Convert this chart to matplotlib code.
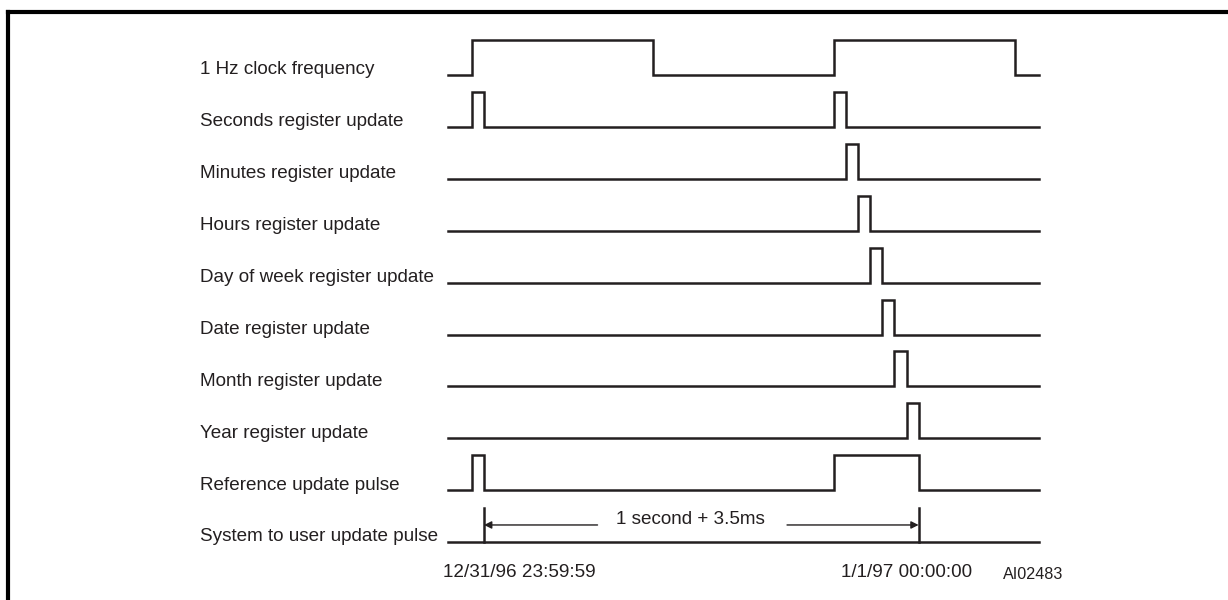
import matplotlib
matplotlib.use("Agg")
import matplotlib.pyplot as plt
from matplotlib.lines import Line2D

# signal names, top to bottom
labels = ["1 Hz clock frequency", "Seconds register update", "Minutes register update",
          "Hours register update", "Day of week register update", "Date register update",
          "Month register update", "Year register update", "Reference update pulse",
          "System to user update pulse"]

# time in ticks (one tick = width of a register update pulse, 30 ticks per clock period)
t_start = -2
t_end = 47
# (rise, fall) pairs for every signal
clock_hi = [(0, 15), (30, 45)]
seconds_hi = [(0, 1), (30, 31)]
minutes_hi = [(31, 32)]
hours_hi = [(32, 33)]
dow_hi = [(33, 34)]
date_hi = [(34, 35)]
month_hi = [(35, 36)]
year_hi = [(36, 37)]
reference_hi = [(0, 1), (30, 37)]
system_hi = []
pulses = [clock_hi, seconds_hi, minutes_hi, hours_hi, dow_hi, date_hi,
          month_hi, year_hi, reference_hi, system_hi]

# measurement between the two update instants
span_from = 1
span_to = 37
span_text = "1 second + 3.5ms"
date_labels = ["12/31/96 23:59:59", "1/1/97 00:00:00"]
date_pos = [-2.4, 30.6]
fig_id = "AI02483"

def waveform(highs):
    xs = [t_start]
    ys = [0]
    for r, f in highs:
        xs += [r, r, f, f]
        ys += [0, 1, 1, 0]
    xs.append(t_end)
    ys.append(0)
    return xs, ys

def main():
    ink = '#231f20'
    plt.rcParams['font.family'] = ['Liberation Sans', 'DejaVu Sans']
    fig = plt.figure(figsize=(12.28, 6), dpi=100)
    ax = fig.add_axes([0, 0, 1, 1])
    ax.set_axis_off()
    px = 12.07     # pixels per tick
    row = 51.9     # pixels per row
    ax.set_xlim(-472 / px, (1228 - 472) / px)
    ax.set_ylim((600 - 75) / row, -75 / row)
    h = 35 / row   # pulse height in rows
    fs = 13.6

    for i, highs in enumerate(pulses):
        xs, ys = waveform(highs)
        ax.plot(xs, [i - y * h for y in ys], color=ink, linewidth=1.8, solid_joinstyle='miter')
        ax.text(-22.5, i - 0.1, labels[i], ha='left', va='center', fontsize=fs, color=ink)

    # system to user update markers and span arrow
    n = len(labels) - 1
    for t in [span_from, span_to]:
        ax.plot([t, t], [n, n - 0.66], color=ink, linewidth=1.8)
    arrow = dict(arrowstyle='-|>', color=ink, linewidth=1.0, mutation_scale=11, shrinkA=0, shrinkB=0)
    ax.annotate('', xy=(span_from, n - 0.33), xytext=(10.4, n - 0.33), arrowprops=arrow)
    ax.annotate('', xy=(span_to, n - 0.33), xytext=(26.1, n - 0.33), arrowprops=arrow)
    ax.text(18.1, n - 0.43, span_text, ha='center', va='center', fontsize=fs, color=ink)

    for s, t in zip(date_labels, date_pos):
        ax.text(t, n + 0.58, s, ha='left', va='center', fontsize=fs, color=ink)
    ax.text(44, n + 0.63, fig_id, ha='left', va='center', fontsize=11.6, color=ink)

    # frame (top and left edges only)
    fig.add_artist(Line2D([8 / 1228, 1], [1 - 12 / 600, 1 - 12 / 600], color='k', linewidth=3))
    fig.add_artist(Line2D([8 / 1228, 8 / 1228], [0, 1 - 12 / 600], color='k', linewidth=3))

    plt.savefig("out.png", dpi=100, facecolor='white')

if __name__ == "__main__":
    main()
